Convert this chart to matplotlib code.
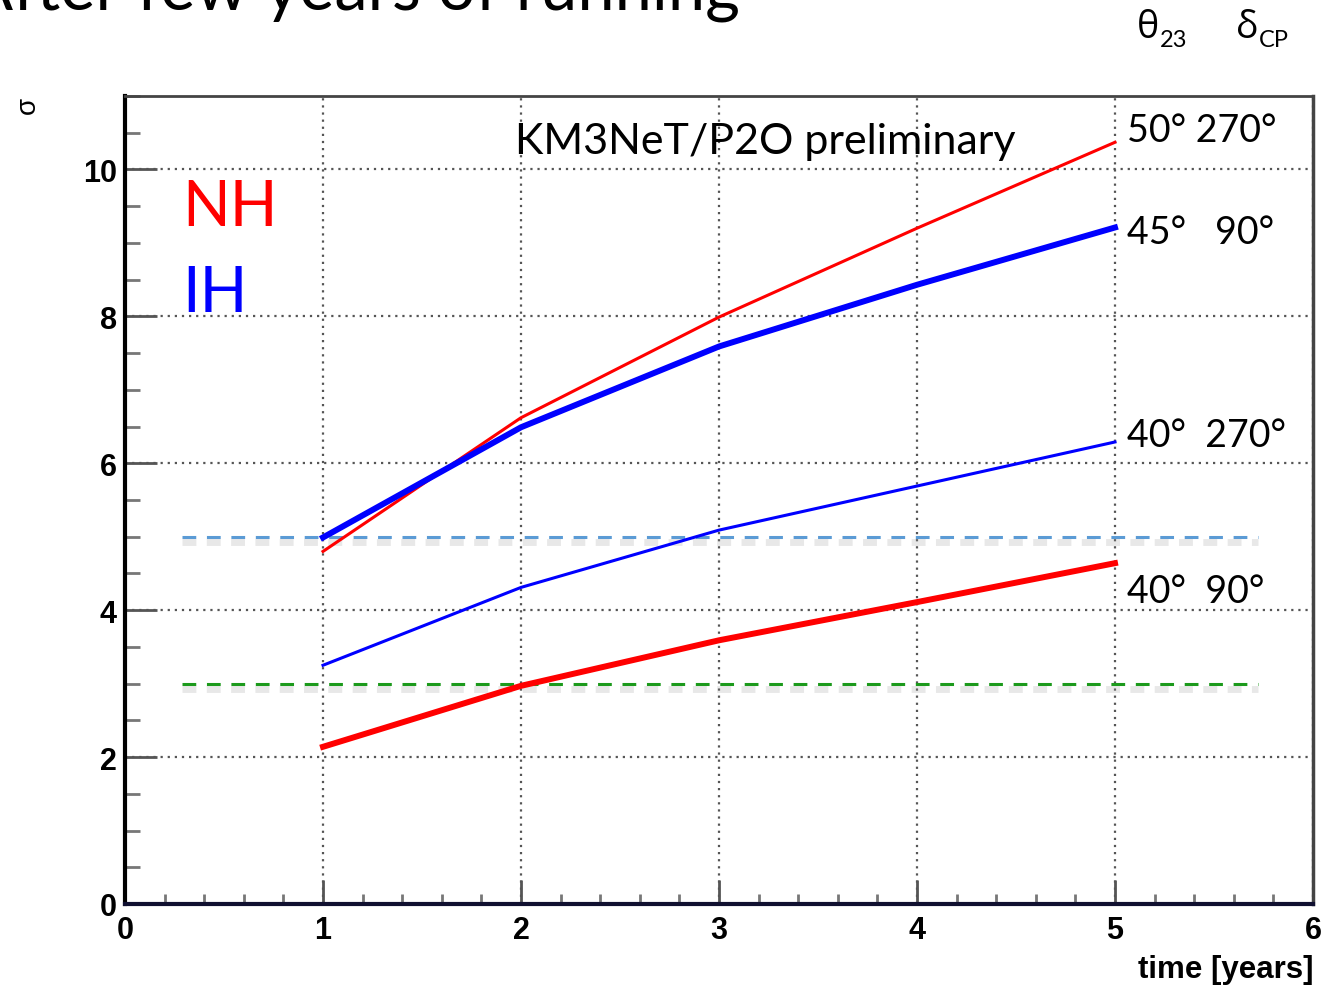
import numpy as np
import matplotlib.pyplot as plt

# sensitivity (sigma) vs running time
years = [1, 2, 3, 4, 5]
nh_50_270 = [4.80, 6.62, 7.99, 9.20, 10.37]   # NH, theta23=50, dCP=270
ih_45_90 = [4.99, 6.49, 7.59, 8.43, 9.21]     # IH, theta23=45, dCP=90
ih_40_270 = [3.25, 4.31, 5.09, 5.69, 6.29]    # IH, theta23=40, dCP=270
nh_40_90 = [2.14, 2.97, 3.59, 4.11, 4.64]     # NH, theta23=40, dCP=90

ref_x = [0.29, 5.72]
ref_5sigma = 5
ref_3sigma = 3

labels = ["50° 270°", "45°   90°", "40°  270°", "40°  90°"]
label_y = [10.39, 9.0, 6.23, 4.11]

fig = plt.figure(figsize=(13.22, 9.87), dpi=100)
ax = fig.add_axes([125 / 1322, 82 / 987, 1188 / 1322, 808 / 987])

# reference lines with a soft shadow
for y, c in [(ref_5sigma, '#5b9bd5'), (ref_3sigma, '#1c9a1c')]:
    ax.plot(ref_x, [y - 0.07, y - 0.07], color='#999999', lw=5, alpha=0.22,
            ls=(0, (2.0, 1.5)), solid_capstyle='butt')
    ax.plot(ref_x, [y, y], color=c, lw=2.2, ls=(0, (4.5, 3.5)))

ax.plot(years, nh_50_270, color='#ff0000', lw=2.2)
ax.plot(years, ih_45_90, color='#0000ff', lw=4.3)
ax.plot(years, ih_40_270, color='#0000ff', lw=2.2)
ax.plot(years, nh_40_90, color='#ff0000', lw=4.3)

ax.set_xlim(0, 6)
ax.set_ylim(0, 11)
ax.set_xticks(range(0, 7))
ax.set_yticks(range(0, 11, 2))
ax.set_xticks(np.arange(0, 6.01, 0.2), minor=True)
ax.set_yticks(np.arange(0, 11.01, 0.5), minor=True)
ax.grid(True, which='major', color='#555555', lw=1.6, ls=(0, (1, 2.2)))

ax.tick_params(which='major', axis='y', direction='in', length=23, width=2,
               color='#555555', labelsize=22, pad=6)
ax.tick_params(which='minor', axis='y', direction='in', length=11, width=2,
               color='#777777')
ax.tick_params(which='major', axis='x', direction='in', length=17, width=2,
               color='#555555', labelsize=22, pad=8)
ax.tick_params(which='minor', axis='x', direction='in', length=7, width=2,
               color='#777777')
for lab in ax.get_xticklabels() + ax.get_yticklabels():
    lab.set_family('Liberation Sans')
    lab.set_fontweight('bold')

ax.spines['left'].set_linewidth(3)
ax.spines['bottom'].set_linewidth(3)
ax.spines['bottom'].set_color('#101030')
ax.spines['top'].set_linewidth(2)
ax.spines['top'].set_color('#444444')
ax.spines['right'].set_linewidth(2.5)
ax.spines['right'].set_color('#444444')

calib = ['Lato', 'DejaVu Sans']
ax.text(1.97, 10.23, 'KM3NeT/P2O preliminary', fontsize=31, family=calib)
ax.text(0.29, 9.25, 'NH', color='#ff0000', fontsize=45, family=calib)
ax.text(0.29, 8.07, 'IH', color='#0000ff', fontsize=45, family=calib)
for t, y in zip(labels, label_y):
    ax.text(5.06, y, t, fontsize=27, family=calib)

# axis titles in ROOT style
fig.text(1313 / 1322, 1 - 978 / 987, 'time [years]', ha='right', va='baseline',
         fontsize=22.5, fontweight='bold', family='Liberation Sans')
fig.text(28 / 1322, 1 - 105 / 987, 'σ', rotation=90, ha='center', va='center',
         fontsize=20, family='Liberation Sans')

# slide header, cut at the top
fig.text(740 / 1322, 1 - 10 / 987, 'After few years of running', ha='right',
         va='baseline', fontsize=48, family=calib)

greek = ['Open Sans', 'DejaVu Sans']
fig.text(1137 / 1322, 1 - 38 / 987, 'θ', fontsize=27, family=greek, va='baseline')
fig.text(1160 / 1322, 1 - 47 / 987, '23', fontsize=17, family=calib, va='baseline')
fig.text(1236 / 1322, 1 - 38 / 987, 'δ', fontsize=27, family=greek, va='baseline')
fig.text(1259 / 1322, 1 - 47 / 987, 'CP', fontsize=17, family=calib, va='baseline')

fig.savefig('out.png', dpi=100)
